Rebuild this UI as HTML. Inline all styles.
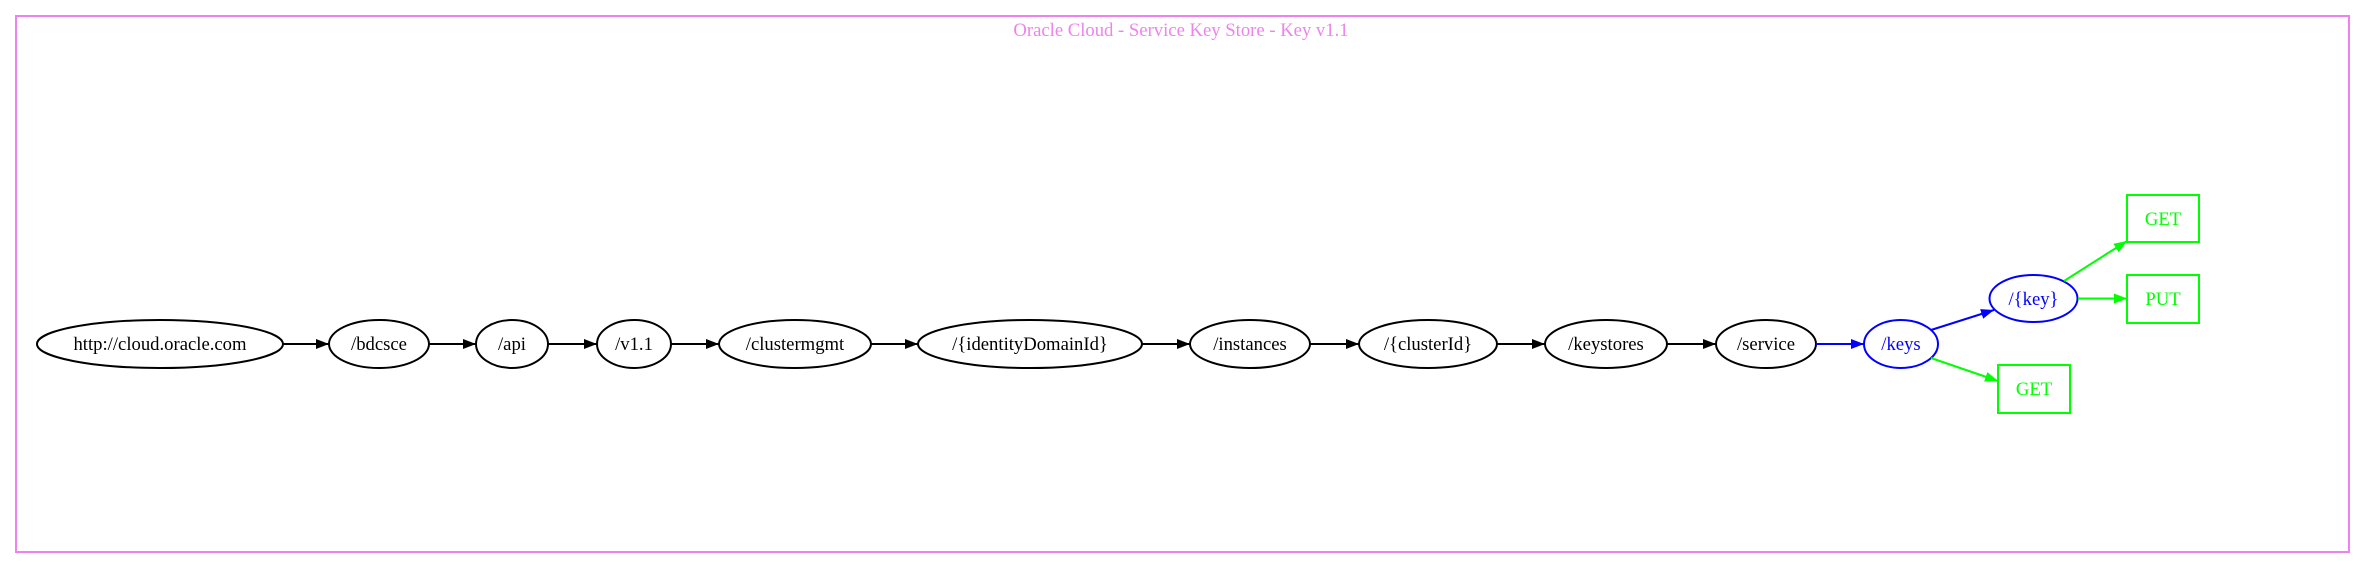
<!DOCTYPE html>
<html><head><meta charset="utf-8"><style>html,body{margin:0;padding:0;background:#fff}svg{display:block}</style></head>
<body>
<svg width="2364" height="568" viewBox="0 0 2364 568" xmlns="http://www.w3.org/2000/svg" font-family="'Liberation Serif', serif" font-size="18.67">
<defs>
<marker id="ak" markerUnits="userSpaceOnUse" markerWidth="14" markerHeight="12" refX="13" refY="5" orient="auto"><path d="M0,0 L13,5 L0,10 z" fill="#000"/></marker>
<marker id="ab" markerUnits="userSpaceOnUse" markerWidth="14" markerHeight="12" refX="13" refY="5" orient="auto"><path d="M0,0 L13,5 L0,10 z" fill="#0000ff"/></marker>
<marker id="ag" markerUnits="userSpaceOnUse" markerWidth="14" markerHeight="12" refX="13" refY="5" orient="auto"><path d="M0,0 L13,5 L0,10 z" fill="#00ff00"/></marker>
</defs>
<rect x="16" y="16" width="2333" height="536" fill="none" stroke="#ee82ee" stroke-width="2"/>
<text x="1181" y="36" text-anchor="middle" fill="#ee82ee">Oracle Cloud - Service Key Store - Key v1.1</text>
<g fill="none" stroke="#000" stroke-width="2">
<ellipse cx="160" cy="344" rx="123" ry="24"/>
<ellipse cx="379" cy="344" rx="50" ry="24"/>
<ellipse cx="512" cy="344" rx="36" ry="24"/>
<ellipse cx="634" cy="344" rx="37" ry="24"/>
<ellipse cx="795" cy="344" rx="76" ry="24"/>
<ellipse cx="1030" cy="344" rx="112" ry="24"/>
<ellipse cx="1250" cy="344" rx="60" ry="24"/>
<ellipse cx="1428" cy="344" rx="69" ry="24"/>
<ellipse cx="1606" cy="344" rx="61" ry="24"/>
<ellipse cx="1766" cy="344" rx="50" ry="24"/>
<line x1="283" y1="344" x2="329" y2="344" marker-end="url(#ak)"/>
<line x1="429" y1="344" x2="476" y2="344" marker-end="url(#ak)"/>
<line x1="548" y1="344" x2="597" y2="344" marker-end="url(#ak)"/>
<line x1="671" y1="344" x2="719" y2="344" marker-end="url(#ak)"/>
<line x1="871" y1="344" x2="918" y2="344" marker-end="url(#ak)"/>
<line x1="1142" y1="344" x2="1190" y2="344" marker-end="url(#ak)"/>
<line x1="1310" y1="344" x2="1359" y2="344" marker-end="url(#ak)"/>
<line x1="1497" y1="344" x2="1545" y2="344" marker-end="url(#ak)"/>
<line x1="1667" y1="344" x2="1716" y2="344" marker-end="url(#ak)"/>
</g>
<g fill="none" stroke="#0000ff" stroke-width="2">
<line x1="1816" y1="344" x2="1864" y2="344" marker-end="url(#ab)"/>
<ellipse cx="1901" cy="344" rx="37" ry="24"/>
<ellipse cx="2033.5" cy="298.5" rx="44" ry="23.5"/>
<line x1="1931" y1="330" x2="1994" y2="310" marker-end="url(#ab)"/>
</g>
<g fill="none" stroke="#00ff00" stroke-width="2">
<rect x="2127" y="195" width="72" height="47"/>
<rect x="2127" y="275" width="72" height="48"/>
<rect x="1998" y="365" width="72" height="48"/>
<line x1="1931" y1="358" x2="1998" y2="381" marker-end="url(#ag)"/>
<line x1="2064" y1="281" x2="2127" y2="241" marker-end="url(#ag)"/>
<line x1="2078" y1="298.5" x2="2127" y2="298.5" marker-end="url(#ag)"/>
</g>
<g text-anchor="middle" fill="#000">
<text x="160" y="350">http://cloud.oracle.com</text>
<text x="379" y="350">/bdcsce</text>
<text x="512" y="350">/api</text>
<text x="634" y="350">/v1.1</text>
<text x="795" y="350">/clustermgmt</text>
<text x="1030" y="350">/{identityDomainId}</text>
<text x="1250" y="350">/instances</text>
<text x="1428" y="350">/{clusterId}</text>
<text x="1606" y="350">/keystores</text>
<text x="1766" y="350">/service</text>
<text x="1901" y="350" fill="#0000ff">/keys</text>
<text x="2033.5" y="305" fill="#0000ff">/{key}</text>
<text x="2163" y="225" fill="#00ff00">GET</text>
<text x="2163" y="305" fill="#00ff00">PUT</text>
<text x="2034" y="395" fill="#00ff00">GET</text>
</g>
</svg>
</body></html>
